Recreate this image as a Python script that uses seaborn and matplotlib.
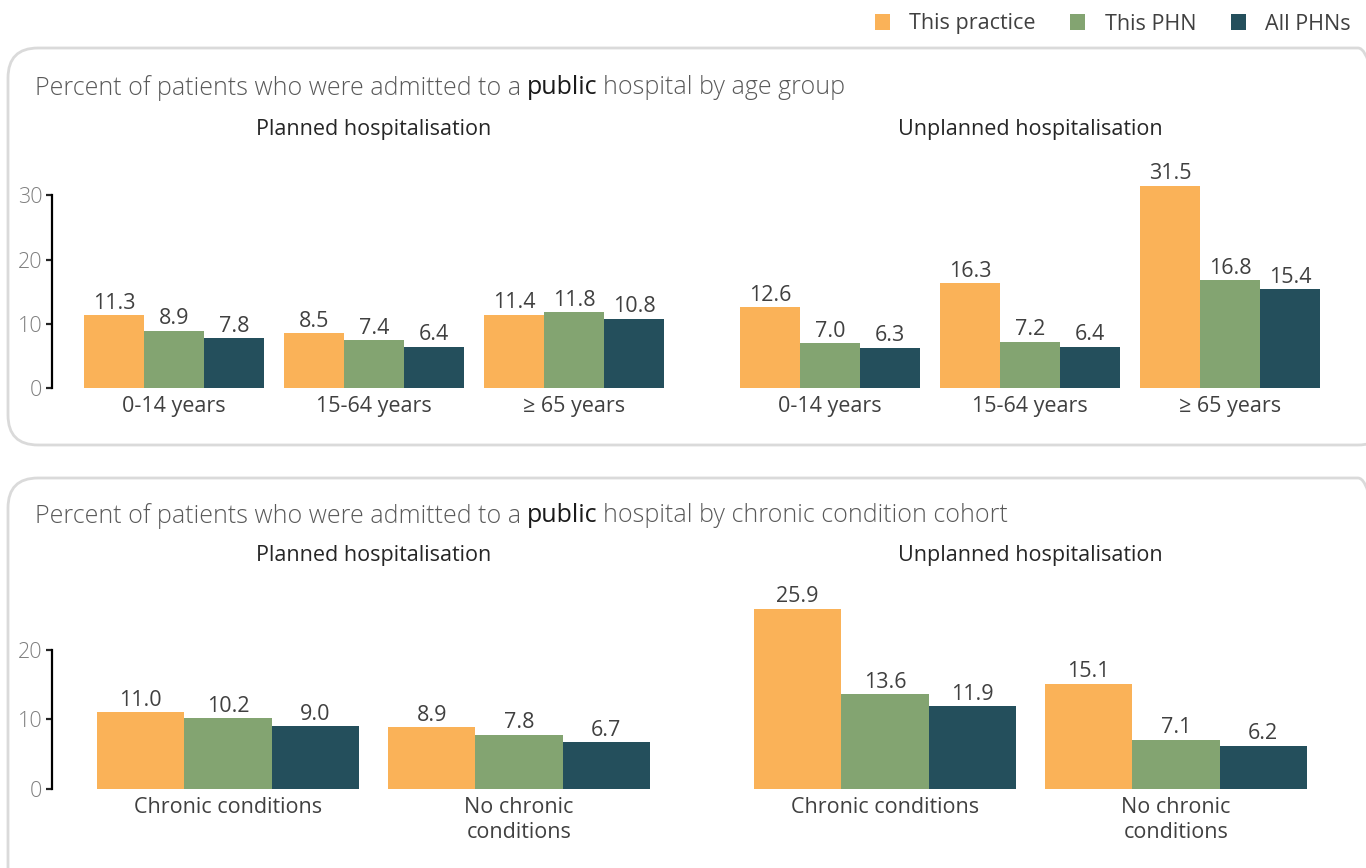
import pandas as pd
import seaborn as sns
import matplotlib.pyplot as plt
from matplotlib.patches import FancyBboxPatch, Patch
from matplotlib.transforms import IdentityTransform

# data
series = ['This practice', 'This PHN', 'All PHNs']
colors = ['#FAB258', '#83A471', '#244F5C']

age_groups = ['0-14 years', '15-64 years', '≥ 65 years']
planned_age_practice = [11.3, 8.5, 11.4]
planned_age_phn = [8.9, 7.4, 11.8]
planned_age_all = [7.8, 6.4, 10.8]
unplanned_age_practice = [12.6, 16.3, 31.5]
unplanned_age_phn = [7.0, 7.2, 16.8]
unplanned_age_all = [6.3, 6.4, 15.4]

chronic_groups = ['Chronic conditions', 'No chronic\nconditions']
planned_chr_practice = [11.0, 8.9]
planned_chr_phn = [10.2, 7.8]
planned_chr_all = [9.0, 6.7]
unplanned_chr_practice = [25.9, 15.1]
unplanned_chr_phn = [13.6, 7.1]
unplanned_chr_all = [11.9, 6.2]


def long_frame(groups, a, b, c):
    rows = []
    for vals, s in zip([a, b, c], series):
        for g, v in zip(groups, vals):
            rows.append({'group': g, 'series': s, 'value': v})
    return pd.DataFrame(rows)


sns.set_style('white')
plt.rcParams['font.family'] = ['Open Sans', 'DejaVu Sans']

W, H = 1366, 868
fig = plt.figure(figsize=(W / 100, H / 100), dpi=100)


def px_axes(left, bottom_from_top, width, height):
    return fig.add_axes([left / W, (H - bottom_from_top) / H, width / W, height / H])


def draw(ax, df, order, ylim, xlim, show_y, yticks=None, ybound=None):
    sns.barplot(data=df, x='group', y='value', hue='series', order=order,
                hue_order=series, palette=colors, saturation=1, width=0.9,
                errorbar=None, linewidth=0, legend=False, ax=ax)
    for cont in ax.containers:
        ax.bar_label(cont, fmt='%.1f', padding=1, fontsize=15.5,
                     color='#404040', clip_on=False)
    ax.set_ylim(*ylim)
    ax.set_xlim(*xlim)
    ax.set_xlabel('')
    ax.set_ylabel('')
    for s in ['top', 'right', 'bottom']:
        ax.spines[s].set_visible(False)
    ax.tick_params(axis='x', length=0, pad=6, labelsize=15.5, labelcolor='#404040')
    if show_y:
        ax.set_yticks(yticks)
        ax.spines['left'].set_bounds(*ybound)
        ax.spines['left'].set_linewidth(1.6)
        ax.spines['left'].set_color('black')
        ax.tick_params(axis='y', left=True, length=4, width=1.6, pad=3,
                       labelsize=15.5, labelcolor='#7F7F7F')
        for lab in ax.get_yticklabels():
            lab.set_fontweight('light')
    else:
        ax.spines['left'].set_visible(False)
        ax.set_yticks([])
    ax.patch.set_alpha(0)


# top panel (age groups)
ax1 = px_axes(52, 388, 644, 212)
draw(ax1, long_frame(age_groups, planned_age_practice, planned_age_phn, planned_age_all),
     age_groups, (0, 33), (-0.61, 2.61), True, [0, 10, 20, 30], (0, 30))
ax2 = px_axes(708, 388, 644, 212)
draw(ax2, long_frame(age_groups, unplanned_age_practice, unplanned_age_phn, unplanned_age_all),
     age_groups, (0, 33), (-0.61, 2.61), False)

# bottom panel (chronic conditions)
ax3 = px_axes(52, 789, 643, 195)
draw(ax3, long_frame(chronic_groups, planned_chr_practice, planned_chr_phn, planned_chr_all),
     chronic_groups, (0, 28), (-0.605, 1.605), True, [0, 10, 20], (0, 20))
ax4 = px_axes(709, 789, 643, 195)
draw(ax4, long_frame(chronic_groups, unplanned_chr_practice, unplanned_chr_phn, unplanned_chr_all),
     chronic_groups, (0, 28), (-0.605, 1.605), False)

# subtitles
for x, label in [(374, 'Planned hospitalisation'), (1030, 'Unplanned hospitalisation')]:
    fig.text(x / W, (H - 130) / H, label, ha='center', va='center', fontsize=15.5, color='#262626')
    fig.text(x / W, (H - 555) / H, label, ha='center', va='center', fontsize=15.5, color='#262626')

# panel titles with bold word
for y, tail in [(88, 'hospital by age group'), (516, 'hospital by chronic condition cohort')]:
    t1 = fig.text(35 / W, (H - y) / H, 'Percent of patients who were admitted to a',
                  ha='left', va='center', fontsize=18, color='#595959', fontweight='light')
    t2 = plt.annotate('public', xy=(1, 0.5), xycoords=t1, xytext=(4, 0),
                      textcoords='offset points', ha='left', va='center',
                      fontsize=18, color='#1A1A1A', fontweight='medium')
    plt.annotate(tail, xy=(1, 0.5), xycoords=t2, xytext=(4, 0),
                 textcoords='offset points', ha='left', va='center',
                 fontsize=18, color='#595959', fontweight='light')

# rounded panel boxes (pixel coordinates)
for (x, y, w, h) in [(8, 423, 1380, 397), (8, -40, 1380, 430)]:
    box = FancyBboxPatch((x, y), w, h, boxstyle='round,pad=0,rounding_size=30',
                         transform=IdentityTransform(), fill=False,
                         edgecolor='#DADADA', linewidth=2)
    fig.add_artist(box)

# legend
handles = [Patch(facecolor=c, edgecolor='none', label=s) for s, c in zip(series, colors)]
fig.legend(handles=handles, loc='center right', bbox_to_anchor=(1370 / W, (H - 24) / H),
           ncol=3, frameon=False, fontsize=15.5, handlelength=0.7, handleheight=0.7,
           handletextpad=0.9, columnspacing=1.6, labelcolor='#404040')

fig.savefig('out.png', dpi=100)
